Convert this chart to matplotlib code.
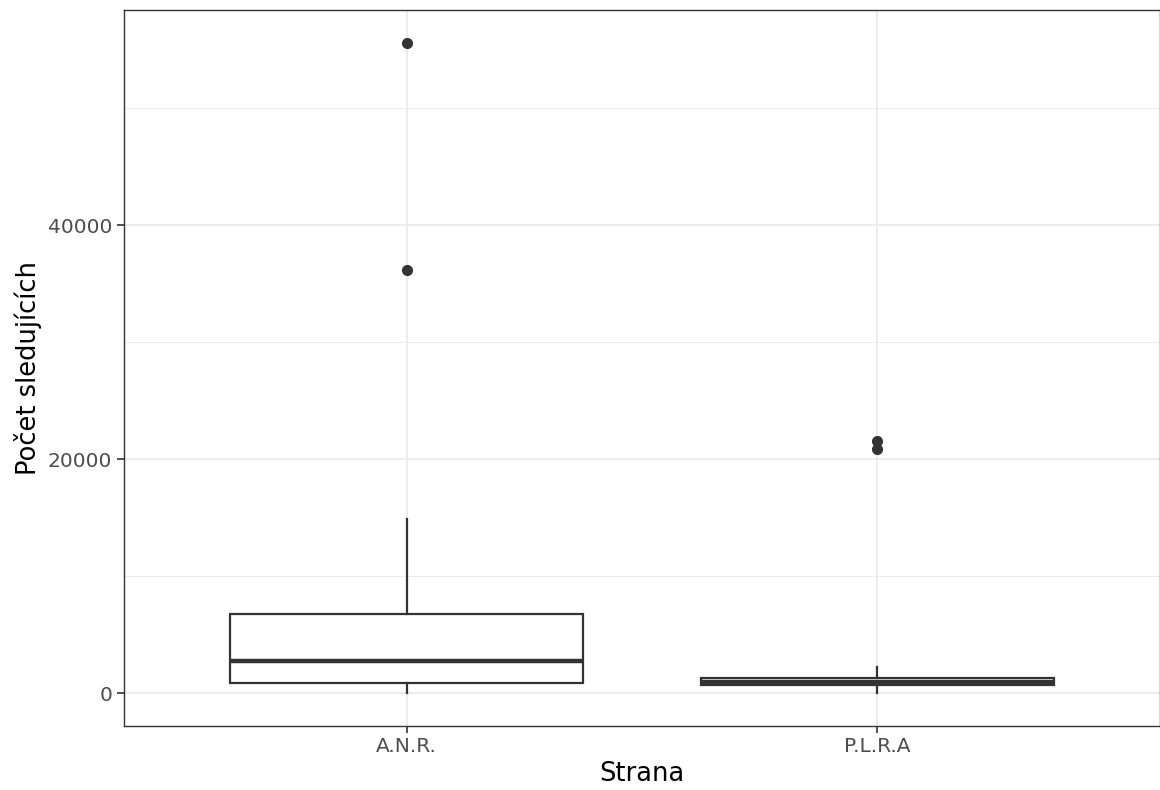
import matplotlib
matplotlib.use('Agg')
import matplotlib.pyplot as plt
from matplotlib.ticker import MultipleLocator

# data
strany = ['A.N.R.', 'P.L.R.A']
q1 = [860, 650]
median = [2750, 930]
q3 = [6750, 1300]
whisker_lo = [0, 0]
whisker_hi = [14900, 2200]
outliers = [[55600, 36150], [21500, 20850]]

plt.rcParams['font.family'] = ['DejaVu Sans']

fig = plt.figure(figsize=(11.6, 7.9), dpi=100)
ax = fig.add_axes([0.1069, 0.0816, 0.8931, 0.9057])

stats = []
for i, s in enumerate(strany):
    stats.append({'label': s, 'q1': q1[i], 'med': median[i], 'q3': q3[i],
                  'whislo': whisker_lo[i], 'whishi': whisker_hi[i], 'fliers': outliers[i]})

c = '#333333'
ax.bxp(stats, positions=[1, 2], widths=0.75, showcaps=False, patch_artist=True,
       boxprops=dict(facecolor='white', edgecolor=c, linewidth=1.6),
       medianprops=dict(color=c, linewidth=3.2),
       whiskerprops=dict(color=c, linewidth=1.6),
       flierprops=dict(marker='o', markerfacecolor=c, markeredgecolor=c, markersize=7),
       zorder=3)

ax.set_xlim(0.4, 2.6)
ymax = max(max(o) for o in outliers)
pad = 0.05 * ymax
ax.set_ylim(-pad, ymax + pad)

ax.yaxis.set_major_locator(MultipleLocator(20000))
ax.yaxis.set_minor_locator(MultipleLocator(10000))
ax.grid(True, which='major', color='#EBEBEB', linewidth=1.3, zorder=0)
ax.grid(True, which='minor', axis='y', color='#EBEBEB', linewidth=0.7, zorder=0)
ax.set_axisbelow(True)
ax.set_xticks([1, 2])
ax.set_xticklabels(strany)

for sp in ax.spines.values():
    sp.set_color(c)
    sp.set_linewidth(1.0)

ax.tick_params(axis='both', which='major', colors=c, length=5, width=1.2,
               labelsize=14.5, labelcolor='#4D4D4D')
ax.tick_params(axis='y', which='minor', length=0)

ax.set_xlabel('Strana', fontsize=18.5, labelpad=3)
ax.set_ylabel('Počet sledujících', fontsize=18.5, labelpad=4)

fig.savefig('out.png', dpi=100)
